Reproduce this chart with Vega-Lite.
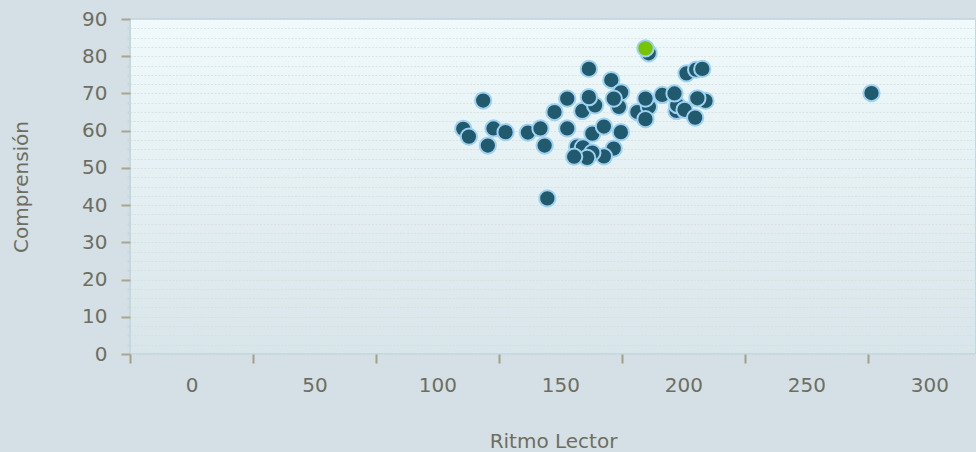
{
  "$schema": "https://vega.github.io/schema/vega-lite/v6.json",
  "width": 846,
  "height": 335,
  "autosize": {"type": "none"},
  "padding": {"left": 130, "top": 19, "right": 0, "bottom": 98},
  "background": "#d4e0e6",
  "config": {
    "view": {
      "fill": {"gradient": "linear", "x1": 0, "y1": 0, "x2": 0, "y2": 1,
        "stops": [{"offset": 0, "color": "#f0fafc"}, {"offset": 1, "color": "#d8e5ea"}]},
      "stroke": "#c4d8df",
      "strokeWidth": 2
    },
    "axis": {
      "labelFont": "DejaVu Sans",
      "titleFont": "DejaVu Sans",
      "labelFontSize": 20,
      "titleFontSize": 20,
      "titleFontWeight": "normal",
      "labelColor": "#6f6e5e",
      "titleColor": "#6f6e5e",
      "domain": false
    }
  },
  "data": {
    "values": [
      {"ritmo": 185.9, "comp": 80.8, "sel": "no"},
      {"ritmo": 161.6, "comp": 76.6, "sel": "no"},
      {"ritmo": 170.7, "comp": 73.6, "sel": "no"},
      {"ritmo": 174.7, "comp": 70.3, "sel": "no"},
      {"ritmo": 118.6, "comp": 68.1, "sel": "no"},
      {"ritmo": 110.5, "comp": 60.5, "sel": "no"},
      {"ritmo": 112.8, "comp": 58.4, "sel": "no"},
      {"ritmo": 122.8, "comp": 60.6, "sel": "no"},
      {"ritmo": 127.7, "comp": 59.6, "sel": "no"},
      {"ritmo": 120.5, "comp": 56.0, "sel": "no"},
      {"ritmo": 136.8, "comp": 59.5, "sel": "no"},
      {"ritmo": 141.9, "comp": 60.6, "sel": "no"},
      {"ritmo": 143.6, "comp": 56.0, "sel": "no"},
      {"ritmo": 144.7, "comp": 41.8, "sel": "no"},
      {"ritmo": 147.6, "comp": 65.0, "sel": "no"},
      {"ritmo": 152.8, "comp": 68.6, "sel": "no"},
      {"ritmo": 152.8, "comp": 60.6, "sel": "no"},
      {"ritmo": 158.9, "comp": 65.3, "sel": "no"},
      {"ritmo": 164.1, "comp": 66.8, "sel": "no"},
      {"ritmo": 161.6, "comp": 69.0, "sel": "no"},
      {"ritmo": 163.0, "comp": 59.2, "sel": "no"},
      {"ritmo": 167.7, "comp": 61.1, "sel": "no"},
      {"ritmo": 174.6, "comp": 59.6, "sel": "no"},
      {"ritmo": 171.7, "comp": 55.2, "sel": "no"},
      {"ritmo": 156.8, "comp": 55.7, "sel": "no"},
      {"ritmo": 167.7, "comp": 53.1, "sel": "no"},
      {"ritmo": 159.2, "comp": 55.5, "sel": "no"},
      {"ritmo": 163.0, "comp": 54.1, "sel": "no"},
      {"ritmo": 160.9, "comp": 52.7, "sel": "no"},
      {"ritmo": 155.6, "comp": 53.0, "sel": "no"},
      {"ritmo": 173.8, "comp": 66.4, "sel": "no"},
      {"ritmo": 171.7, "comp": 68.6, "sel": "no"},
      {"ritmo": 181.3, "comp": 65.0, "sel": "no"},
      {"ritmo": 186.0, "comp": 66.4, "sel": "no"},
      {"ritmo": 184.6, "comp": 68.6, "sel": "no"},
      {"ritmo": 184.6, "comp": 63.1, "sel": "no"},
      {"ritmo": 191.4, "comp": 69.6, "sel": "no"},
      {"ritmo": 197.2, "comp": 65.3, "sel": "no"},
      {"ritmo": 197.5, "comp": 66.9, "sel": "no"},
      {"ritmo": 200.5, "comp": 65.6, "sel": "no"},
      {"ritmo": 196.4, "comp": 70.0, "sel": "no"},
      {"ritmo": 201.3, "comp": 75.4, "sel": "no"},
      {"ritmo": 205.2, "comp": 76.4, "sel": "no"},
      {"ritmo": 207.7, "comp": 76.6, "sel": "no"},
      {"ritmo": 204.8, "comp": 63.5, "sel": "no"},
      {"ritmo": 209.0, "comp": 68.0, "sel": "no"},
      {"ritmo": 205.7, "comp": 68.7, "sel": "no"},
      {"ritmo": 276.5, "comp": 70.1, "sel": "no"},
      {"ritmo": 184.6, "comp": 82.1, "sel": "yes"}
    ]
  },
  "mark": {"type": "circle", "size": 265, "opacity": 1, "stroke": "#9fd2f2", "strokeWidth": 2},
  "encoding": {
    "x": {
      "field": "ritmo", "type": "quantitative",
      "scale": {"domain": [-25, 319], "nice": false, "zero": false},
      "axis": {
        "title": "Ritmo Lector",
        "values": [-25, 25, 75, 125, 175, 225, 275],
        "labelExpr": "format(datum.value + 25, 'd')",
        "labelOffset": 61.5,
        "labelPadding": 12,
        "labelFlush": false,
        "labelOverlap": false,
        "grid": false,
        "tickSize": 9,
        "tickWidth": 2,
        "tickColor": "#a3a086",
        "titlePadding": 36
      }
    },
    "y": {
      "field": "comp", "type": "quantitative",
      "scale": {"domain": [0, 90], "nice": false},
      "axis": {
        "title": "Comprensión",
        "values": [0, 2.5, 5, 7.5, 10, 12.5, 15, 17.5, 20, 22.5, 25, 27.5, 30, 32.5, 35, 37.5, 40, 42.5, 45, 47.5, 50, 52.5, 55, 57.5, 60, 62.5, 65, 67.5, 70, 72.5, 75, 77.5, 80, 82.5, 85, 87.5, 90],
        "labelExpr": "datum.value % 10 === 0 ? datum.label : ''",
        "labelOverlap": false,
        "labelFlush": false,
        "labelPadding": 14,
        "grid": true,
        "gridColor": "#d8ddd6",
        "gridDash": [2, 1.5],
        "gridWidth": 1.2,
        "gridOpacity": 0.75,
        "tickSize": {"condition": {"test": "datum.value % 10 === 0", "value": 9}, "value": 3},
        "tickColor": {"condition": {"test": "datum.value % 10 === 0", "value": "#a9a68c"}, "value": "#c6d7dd"},
        "tickWidth": 2,
        "titlePadding": 50
      }
    },
    "color": {
      "field": "sel", "type": "nominal",
      "scale": {"domain": ["no", "yes"], "range": ["#225a6d", "#77c400"]},
      "legend": null
    }
  }
}
